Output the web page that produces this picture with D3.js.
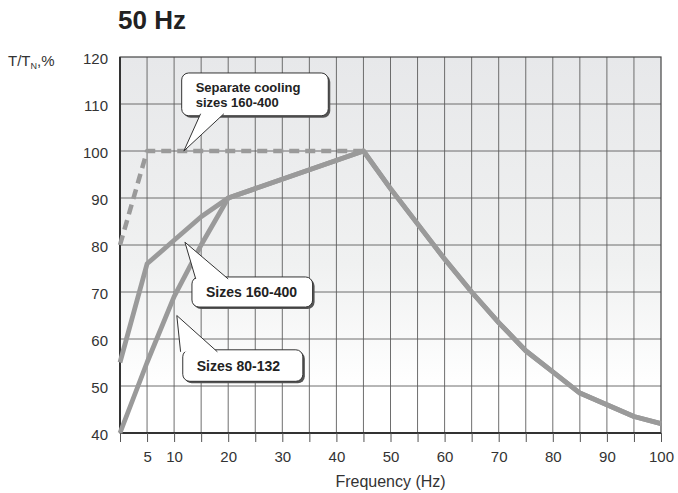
<!DOCTYPE html>
<html><head><meta charset="utf-8">
<script src="https://cdn.jsdelivr.net/npm/d3@7"></script>
<style>body{margin:0;background:#fff}svg{display:block}text{font-family:"Liberation Sans",Arial,sans-serif}</style>
</head><body><div id="chart"></div>
<script>
// ---- data ----
const xTickLabels = [5, 10, 20, 30, 40, 50, 60, 70, 80, 90, 100];
const yTickLabels = [40, 50, 60, 70, 80, 90, 100, 110, 120];
const sizes80_132 = [[0,40],[5,55],[10,69],[15,80],[20,90],[45,100],[50,92],[55,84.5],[60,77],[65,70],[70,63.5],[75,57.5],[80,53],[85,48.5],[90,46],[95,43.5],[100,42]];
const sizes160_400 = [[0,55],[5,76],[10,81],[15,86],[20,90],[45,100],[50,92],[55,84.5],[60,77],[65,70],[70,63.5],[75,57.5],[80,53],[85,48.5],[90,46],[95,43.5],[100,42]];
const separateCooling = [[0,80],[5,100],[45,100]];
const calloutLines = [["Separate cooling","sizes 160-400"],["Sizes 160-400"],["Sizes 80-132"]];
// callout geometry in data units: box x0,x1,y0,y1 ; pointer base x0,x1 ; tip
const calloutBoxes = [[11.4,38.5,116.6,107.5],[13.3,35.6,73.2,66.8],[11.6,33.8,57.7,51.0]];
const calloutBase = [[14.9,19.2,"bottom"],[14,20,"top"],[11.2,18,"top"]];
const calloutTips = [[11.8,100],[12,80.6],[10.5,65]];

const W = 678, H = 493;
const m = {l:120, r:17, t:57, b:60};
const svg = d3.select("#chart").append("svg").attr("width", W).attr("height", H);
const x = d3.scaleLinear().domain([0,100]).range([m.l, W - m.r]);
const y = d3.scaleLinear().domain([40,120]).range([H - m.b, m.t]);

const defs = svg.append("defs");
const g = defs.append("linearGradient").attr("id","bg").attr("x1",0).attr("x2",0).attr("y1",0).attr("y2",1);
g.append("stop").attr("offset","0%").attr("stop-color","#e7e8ea");
g.append("stop").attr("offset","55%").attr("stop-color","#f0f1f1");
g.append("stop").attr("offset","88%").attr("stop-color","#ffffff");

svg.append("rect").attr("x", x(0)).attr("y", y(120)).attr("width", x(100)-x(0)).attr("height", y(40)-y(120)).attr("fill","url(#bg)");

// grid
const vTicks = d3.range(5, 100, 5);
svg.append("g").selectAll("line").data(vTicks).join("line")
  .attr("x1", d=>x(d)).attr("x2", d=>x(d)).attr("y1", y(120)).attr("y2", y(40))
  .attr("stroke","#5e5e5e").attr("stroke-width",0.9);
svg.append("g").selectAll("line").data(d3.range(50,120,10)).join("line")
  .attr("x1", x(0)).attr("x2", x(100)).attr("y1", d=>y(d)).attr("y2", d=>y(d))
  .attr("stroke","#5e5e5e").attr("stroke-width",0.9);
// frame
svg.append("rect").attr("x", x(0)).attr("y", y(120)).attr("width", x(100)-x(0)).attr("height", y(40)-y(120))
  .attr("fill","none").attr("stroke","#444").attr("stroke-width",1.2);
svg.append("line").attr("x1",x(0)).attr("x2",x(100)).attr("y1",y(40)).attr("y2",y(40)).attr("stroke","#333").attr("stroke-width",2);
svg.append("line").attr("x1",x(0)).attr("x2",x(0)).attr("y1",y(120)).attr("y2",y(40)).attr("stroke","#333").attr("stroke-width",2);

// axes
const xAxis = d3.axisBottom(x).tickValues(d3.range(0,101,5)).tickSize(9)
  .tickFormat(d => xTickLabels.includes(d) ? d : "");
const xa = svg.append("g").attr("transform",`translate(0,${y(40)})`).call(xAxis);
xa.select(".domain").remove();
xa.selectAll(".tick line").attr("stroke","#555");
xa.selectAll("text").attr("font-size",15).attr("fill","#333").attr("dy","0.71em").attr("y",18);

const yAxis = d3.axisLeft(y).tickValues(yTickLabels).tickSize(0).tickPadding(12);
const ya = svg.append("g").attr("transform",`translate(${x(0)},0)`).call(yAxis);
ya.select(".domain").remove();
ya.selectAll("text").attr("font-size",15).attr("fill","#333").attr("dy","0.42em");

// lines
const line = d3.line().x(d=>x(d[0])).y(d=>y(d[1]));
const lg = svg.append("g").attr("fill","none").attr("stroke","#9a9a9a").attr("stroke-linejoin","round");
lg.append("path").attr("d", line(separateCooling)).attr("stroke-width",4.5).attr("stroke-dasharray","10,6");
lg.append("path").attr("d", line(sizes160_400)).attr("stroke-width",4.8);
lg.append("path").attr("d", line(sizes80_132)).attr("stroke-width",4.8);

// callouts
calloutBoxes.forEach((b, i) => {
  const bx0 = x(b[0]), bx1 = x(b[1]), by0 = y(b[2]), by1 = y(b[3]);
  const cg = svg.append("g");
  cg.append("rect").attr("x",bx0+2).attr("y",by0+2).attr("width",bx1-bx0).attr("height",by1-by0)
    .attr("rx",7).attr("fill","#555");
  cg.append("rect").attr("x",bx0).attr("y",by0).attr("width",bx1-bx0).attr("height",by1-by0)
    .attr("rx",7).attr("fill","#fff").attr("stroke","#333").attr("stroke-width",1);
  const base = calloutBase[i], tip = calloutTips[i];
  const yb = base[2] === "bottom" ? by1 - 2 : by0 + 2;
  const p = d3.path();
  p.moveTo(x(base[0]), yb); p.lineTo(x(tip[0]), y(tip[1])); p.lineTo(x(base[1]), yb);
  cg.append("path").attr("d", p.toString()).attr("fill","#fff").attr("stroke","#333").attr("stroke-width",1);
  const lines = calloutLines[i];
  const fs = lines.length > 1 ? 13 : 14;
  const t = cg.append("text").attr("font-size",fs).attr("font-weight","bold").attr("fill","#222");
  const cy = (by0 + by1)/2;
  lines.forEach((s, k) => {
    t.append("tspan").attr("x", bx0 + 14).attr("y", cy + 5 + (k - (lines.length-1)/2)*14.8).text(s);
  });
});

// title and labels
svg.append("text").attr("x",118).attr("y",29).attr("font-size",26).attr("font-weight","bold").attr("fill","#222").text("50 Hz");
const yl = svg.append("text").attr("x",8).attr("y",66).attr("font-size",15).attr("fill","#333");
yl.append("tspan").text("T/T");
yl.append("tspan").attr("font-size",9).attr("dy",3).text("N");
yl.append("tspan").attr("dy",-3).text(",%");
svg.append("text").attr("x",x(50)).attr("y",487).attr("text-anchor","middle").attr("font-size",16).attr("fill","#333").text("Frequency (Hz)");
</script></body></html>
